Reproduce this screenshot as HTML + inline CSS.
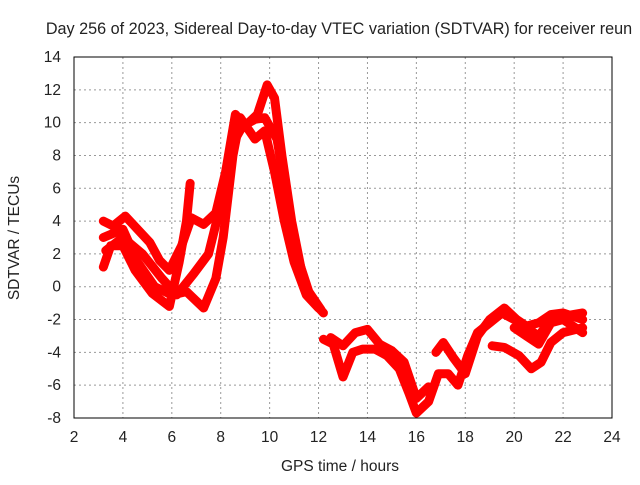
<!DOCTYPE html>
<html><head><meta charset="utf-8"><style>
body{margin:0;background:#fff;}
svg text{font-family:"Liberation Sans",sans-serif;font-size:15.5px;fill:#222;}
</style></head><body>
<svg width="640" height="480">
<rect width="640" height="480" fill="#fff"/>
<g id="grid"></g>
<g id="series"></g>
<rect x="74" y="57" width="538" height="361" fill="none" stroke="#000" stroke-width="1"/>
<g id="ticks"></g>
<text x="339" y="34" text-anchor="middle" style="font-size:16.2px">Day 256 of 2023, Sidereal Day-to-day VTEC variation (SDTVAR) for receiver reun</text>
<text x="340" y="471" text-anchor="middle">GPS time / hours</text>
<text x="19" y="238" text-anchor="middle" transform="rotate(-90 19 238)">SDTVAR / TECUs</text>
</svg>
<script>
const xTicks=[2,4,6,8,10,12,14,16,18,20,22,24];
const yTicks=[14,12,10,8,6,4,2,0,-2,-4,-6,-8];
const traceA=[[3.2,4],[3.6,3.7],[4.1,4.3],[4.6,3.5],[5.1,2.7],[5.5,1.6],[5.9,1],[6.4,2.5],[6.8,4.2],[7.3,3.8],[7.8,4.5],[8.2,7],[8.6,10.5],[9,9.8],[9.5,10.5],[9.9,12.3],[10.2,11.5],[10.5,8],[10.9,4],[11.3,1],[11.7,-0.8],[12.2,-1.6]];
const traceB=[[3.2,1.2],[3.5,2.5],[4,2.5],[4.5,1],[5.2,-0.4],[5.9,-1.2],[6.3,1.5],[6.6,4],[6.75,6.3]];
const traceC=[[3.2,3],[4,3.5],[4.6,1.5],[5.3,0],[6,-0.5],[6.6,-0.3],[7.3,-1.3],[7.8,0.5],[8.1,3],[8.5,8],[8.8,10.3],[9.4,9],[9.8,9.5],[10.2,7],[10.6,4],[11,1.5],[11.5,-0.5],[12,-1.3]];
const traceD=[[3.3,2.2],[4,3],[4.8,2],[5.6,0.5],[6.2,-0.5],[6.9,0.8],[7.5,2],[8,5],[8.4,8.5],[8.9,9.8],[9.4,10.2],[9.8,10.3],[10.3,9],[10.7,5.5],[11.1,2],[11.6,-0.3],[12.1,-1.4]];
const traceE=[[12.2,-3.2],[12.6,-3.5],[13,-5.5],[13.4,-4],[13.8,-3.8],[14.3,-3.8],[14.8,-4.2],[15.3,-5],[15.7,-6.5],[16,-7.7],[16.5,-7],[16.9,-5.3],[17.3,-5.3],[17.7,-6],[18.1,-4.2],[18.5,-2.8],[19,-2.2],[19.5,-1.6],[20,-2],[20.5,-2.5],[21,-3],[21.5,-2],[22,-1.8],[22.8,-1.6]];
const traceF=[[12.5,-3.1],[13,-3.6],[13.5,-2.8],[14,-2.6],[14.5,-3.5],[15,-3.9],[15.5,-4.6],[16,-6.8],[16.5,-6.1]];
const traceG=[[16.8,-4],[17.1,-3.4],[17.5,-4.3],[18,-5.3],[18.5,-3],[19,-2],[19.6,-1.3],[20.1,-2],[20.5,-2.4],[21,-2.2],[21.5,-1.7],[22,-1.6],[22.8,-2]];
const traceH=[[19.1,-3.6],[19.6,-3.7],[20.2,-4.2],[20.7,-5],[21.1,-4.6],[21.5,-3.4],[22,-2.8],[22.8,-2.5]];
const traceI=[[20,-2.5],[20.5,-3],[21,-3.5],[21.5,-2.2],[22,-2],[22.8,-2.8]];
const traces=[traceA,traceB,traceC,traceD,traceE,traceF,traceG,traceH,traceI];
const NS="http://www.w3.org/2000/svg";
const X=v=>74+(v-2)*538/22, Y=v=>57+(14-v)*361/22;
const grid=document.getElementById('grid'),ticks=document.getElementById('ticks'),ser=document.getElementById('series');
function mk(t,a,p){const e=document.createElementNS(NS,t);for(const k in a)e.setAttribute(k,a[k]);p.appendChild(e);return e;}
xTicks.forEach(v=>{
  const g=mk('line',{x1:X(v),x2:X(v),y1:57,y2:418,stroke:'#999','stroke-dasharray':'2,3'},grid);
  
  
  const t=mk('text',{x:X(v),y:442,'text-anchor':'middle'},ticks);t.textContent=v;
  
  
});
yTicks.forEach(v=>{
  const g=mk('line',{x1:74,x2:612,y1:Y(v),y2:Y(v),stroke:'#999','stroke-dasharray':'2,3'},grid);
  
  
  const t=mk('text',{x:61,y:Y(v)+5,'text-anchor':'end'},ticks);t.textContent=v;
  
  
});
traces.forEach(tr=>{
  const p=mk('polyline',{points:tr.map(d=>X(d[0])+','+Y(d[1])).join(' '),fill:'none',stroke:'#f00','stroke-width':9,'stroke-linejoin':'round','stroke-linecap':'round'},ser);
  
  
});
</script>
</body></html>
